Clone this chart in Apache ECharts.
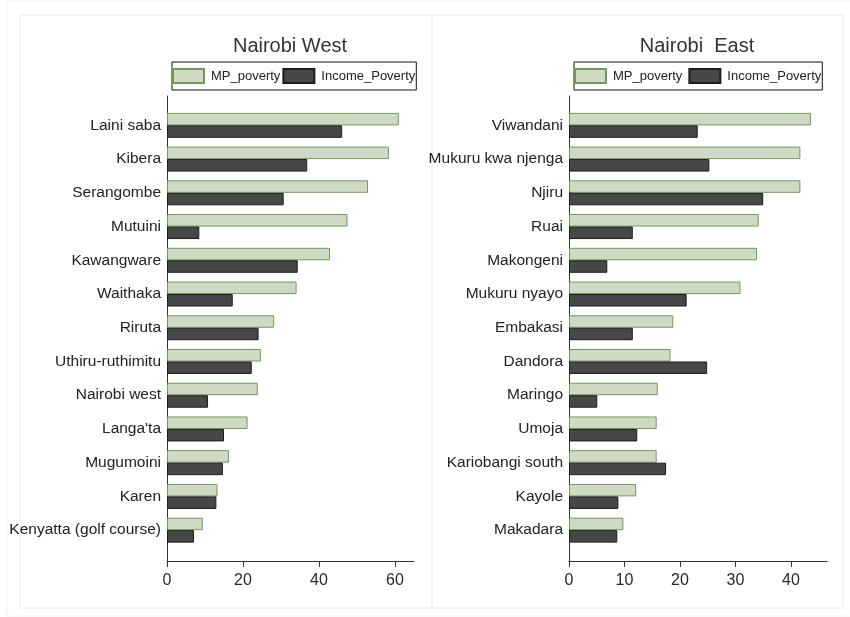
<!DOCTYPE html>
<html>
<head>
<meta charset="utf-8">
<script src="https://cdn.jsdelivr.net/npm/echarts@6/dist/echarts.min.js"></script>
<style>
  html, body { margin: 0; padding: 0; background: #fff; }
  #chart { width: 850px; height: 617px; }
</style>
</head>
<body>
<div id="chart"></div>
<script>
// Nairobi West sub-locations, top to bottom
const westCategories = ['Laini saba', 'Kibera', 'Serangombe', 'Mutuini', 'Kawangware', 'Waithaka', 'Riruta',
  'Uthiru-ruthimitu', 'Nairobi west', "Langa'ta", 'Mugumoini', 'Karen', 'Kenyatta (golf course)'];
const westMP = [61.0, 58.4, 52.9, 47.5, 42.9, 34.1, 28.2, 24.7, 23.9, 21.2, 16.3, 13.3, 9.4];
const westIncome = [46.1, 36.9, 30.7, 8.5, 34.4, 17.3, 24.1, 22.3, 10.8, 15.0, 14.7, 13.0, 7.1];

// Nairobi East sub-locations, top to bottom
const eastCategories = ['Viwandani', 'Mukuru kwa njenga', 'Njiru', 'Ruai', 'Makongeni', 'Mukuru nyayo', 'Embakasi',
  'Dandora', 'Maringo', 'Umoja', 'Kariobangi south', 'Kayole', 'Makadara'];
const eastMP = [43.6, 41.7, 41.7, 34.2, 33.9, 30.9, 18.8, 18.3, 16.0, 15.8, 15.8, 12.1, 9.8];
const eastIncome = [23.2, 25.3, 35.0, 11.5, 6.9, 21.2, 11.5, 24.9, 5.1, 12.3, 17.5, 8.9, 8.7];

// Axis ranges and tick labels
const westRange = { min: 0, max: 65 };
const westTickValues = [0, 20, 40, 60];
const eastRange = { min: 0, max: 46.5 };
const eastTickValues = [0, 10, 20, 30, 40];

const seriesNames = ['MP_poverty', 'Income_Poverty'];

const mpStyle = { color: '#cfdac4', borderColor: '#72995a', borderWidth: 1 };
const incStyle = { color: '#474747', borderColor: '#1c1c1c', borderWidth: 1 };

const FONT = 'Liberation Sans, Arial, sans-serif';

const chart = echarts.init(document.getElementById('chart'), null, { renderer: 'canvas' });

function frameX(gridIndex, r, ticks) {
  return {
    type: 'value', gridIndex, min: r.min, max: r.max,
    axisLine: { show: true, lineStyle: { color: '#333', width: 1 } },
    axisTick: { show: true, length: 6, customValues: ticks, lineStyle: { color: '#333' } },
    axisLabel: { color: '#2a2a2a', fontSize: 16, fontFamily: FONT, margin: 12, customValues: ticks },
    splitLine: { show: false }
  };
}
function hiddenX(gridIndex, r) {
  return { type: 'value', gridIndex, min: r.min, max: r.max, show: false, splitLine: { show: false } };
}
function frameY(gridIndex) {
  return {
    type: 'value', gridIndex, min: 0, max: 1,
    axisLine: { show: true, lineStyle: { color: '#333', width: 1 } },
    axisTick: { show: false }, axisLabel: { show: false }, splitLine: { show: false }
  };
}
function catY(gridIndex, cats) {
  return {
    type: 'category', gridIndex, data: cats, inverse: true,
    axisLine: { show: false }, axisTick: { show: false },
    axisLabel: { color: '#222', fontSize: 15.5, fontFamily: FONT, margin: 6 }
  };
}
function legendAt(left, itemGap) {
  return {
    left, top: 62, orient: 'horizontal',
    data: seriesNames.map(n => ({ name: n, icon: 'rect' })),
    itemWidth: 31, itemHeight: 14, itemGap,
    padding: [6, 1, 6, 0],
    borderColor: '#111', borderWidth: 1, borderRadius: 0,
    selectedMode: false,
    textStyle: { fontSize: 13, fontFamily: FONT, color: '#222', padding: [0, 0, 0, 2] }
  };
}
function bar(name, xi, yi, data, style) {
  return {
    type: 'bar', name, xAxisIndex: xi, yAxisIndex: yi, data,
    itemStyle: style, barGap: '0%', barCategoryGap: '26%', animation: false
  };
}

const option = {
  animation: false,
  backgroundColor: '#fff',
  graphic: [
    { type: 'rect', shape: { x: 7, y: 1, width: 850, height: 615 }, style: { fill: 'none', stroke: '#eef2f6', lineWidth: 1 }, silent: true },
    { type: 'rect', shape: { x: 20, y: 15, width: 412, height: 593 }, style: { fill: 'none', stroke: '#e8eef3', lineWidth: 1 }, silent: true },
    { type: 'rect', shape: { x: 432, y: 15, width: 411, height: 593 }, style: { fill: 'none', stroke: '#e8eef3', lineWidth: 1 }, silent: true }
  ],
  title: [
    { text: 'Nairobi West', left: 285, top: 31, textAlign: 'center',
      textStyle: { fontSize: 20, fontWeight: 'normal', color: '#333', fontFamily: FONT } },
    { text: 'Nairobi  East', left: 692, top: 31, textAlign: 'center',
      textStyle: { fontSize: 20, fontWeight: 'normal', color: '#333', fontFamily: FONT } }
  ],
  legend: [legendAt(172, 2), legendAt(574, 6)],
  grid: [
    { left: 167, top: 96, width: 247, height: 465 },
    { left: 167, top: 108.5, width: 247, height: 438.5 },
    { left: 569, top: 96, width: 258, height: 465 },
    { left: 569, top: 108.5, width: 258, height: 438.5 }
  ],
  xAxis: [frameX(0, westRange, westTickValues), hiddenX(1, westRange), frameX(2, eastRange, eastTickValues), hiddenX(3, eastRange)],
  yAxis: [frameY(0), catY(1, westCategories), frameY(2), catY(3, eastCategories)],
  series: [
    bar(seriesNames[0], 1, 1, westMP, mpStyle),
    bar(seriesNames[1], 1, 1, westIncome, incStyle),
    bar(seriesNames[0], 3, 3, eastMP, mpStyle),
    bar(seriesNames[1], 3, 3, eastIncome, incStyle)
  ]
};

chart.setOption(option);
</script>
</body>
</html>
